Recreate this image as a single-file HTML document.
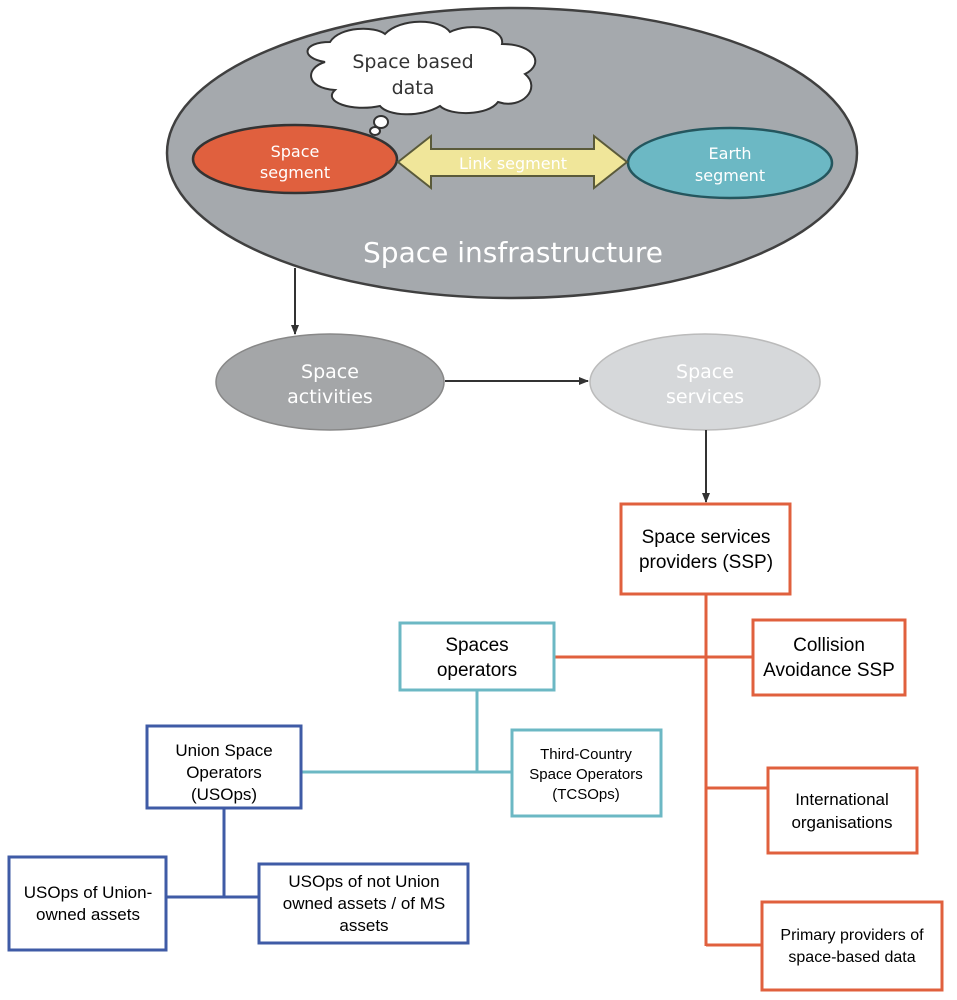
<!DOCTYPE html>
<html><head><meta charset="utf-8"><style>html,body{margin:0;padding:0;background:#fff}svg{display:block}</style></head>
<body>
<svg width="957" height="1000" viewBox="0 0 957 1000" xmlns="http://www.w3.org/2000/svg">
<defs>
<marker id="ar" markerWidth="10" markerHeight="10" refX="9" refY="5" orient="auto" markerUnits="userSpaceOnUse"><path d="M0,1 L10,5 L0,9 z" fill="#333"/></marker>
</defs>
<ellipse cx="512" cy="153" rx="345" ry="145" fill="#a5a9ad" stroke="#404040" stroke-width="2.5"/>
<g fill="#fff" stroke="#333" stroke-width="2">
<path d="M325,62 C300,58 302,42 330,42 C340,26 375,26 385,34 C400,18 440,18 450,32 C470,22 505,28 502,44 C535,44 545,64 525,74 C542,88 522,110 498,102 C488,116 450,116 440,106 C420,118 388,116 380,106 C352,112 322,102 335,90 C305,88 305,68 325,62 Z"/>
<ellipse cx="381" cy="122" rx="7" ry="6"/>
<ellipse cx="375" cy="131" rx="5" ry="4"/>
</g>
<text x="413" y="68" font-family="DejaVu Sans, sans-serif" font-size="19" fill="#333" text-anchor="middle">Space based</text>
<text x="413" y="94" font-family="DejaVu Sans, sans-serif" font-size="19" fill="#333" text-anchor="middle">data</text>
<ellipse cx="295" cy="159" rx="102" ry="34" fill="#e0603e" stroke="#333" stroke-width="2.5"/>
<text x="295" y="157" font-family="DejaVu Sans, sans-serif" font-size="16" fill="#fff" text-anchor="middle">Space</text>
<text x="295" y="178" font-family="DejaVu Sans, sans-serif" font-size="16" fill="#fff" text-anchor="middle">segment</text>
<ellipse cx="730" cy="163" rx="102" ry="35" fill="#6cb8c4" stroke="#24565e" stroke-width="2.5"/>
<text x="730" y="159" font-family="DejaVu Sans, sans-serif" font-size="16" fill="#fff" text-anchor="middle">Earth</text>
<text x="730" y="181" font-family="DejaVu Sans, sans-serif" font-size="16" fill="#fff" text-anchor="middle">segment</text>
<path d="M398,162 L431,136 L431,149 L594,149 L594,136 L627,162 L594,188 L594,176 L431,176 L431,188 Z" fill="#f0e69a" stroke="#5a5a3a" stroke-width="2"/>
<text x="513" y="169" font-family="DejaVu Sans, sans-serif" font-size="16" fill="#fff" text-anchor="middle">Link segment</text>
<text x="513" y="262" font-family="DejaVu Sans, sans-serif" font-size="28" fill="#fff" text-anchor="middle">Space insfrastructure</text>
<line x1="295" y1="268" x2="295" y2="334" stroke="#333" stroke-width="2" marker-end="url(#ar)"/>
<ellipse cx="330" cy="382" rx="114" ry="48" fill="#a4a6a8" stroke="#888" stroke-width="1.5"/>
<text x="330" y="378" font-family="DejaVu Sans, sans-serif" font-size="19" fill="#fff" text-anchor="middle">Space</text>
<text x="330" y="403" font-family="DejaVu Sans, sans-serif" font-size="19" fill="#fff" text-anchor="middle">activities</text>
<line x1="445" y1="381" x2="588" y2="381" stroke="#333" stroke-width="2" marker-end="url(#ar)"/>
<ellipse cx="705" cy="382" rx="115" ry="48" fill="#d6d8da" stroke="#bbb" stroke-width="1.5"/>
<text x="705" y="378" font-family="DejaVu Sans, sans-serif" font-size="19" fill="#fff" text-anchor="middle">Space</text>
<text x="705" y="403" font-family="DejaVu Sans, sans-serif" font-size="19" fill="#fff" text-anchor="middle">services</text>
<line x1="706" y1="430" x2="706" y2="502" stroke="#333" stroke-width="2" marker-end="url(#ar)"/>
<g stroke="#e0603e" stroke-width="3" fill="none">
<line x1="706" y1="594" x2="706" y2="946"/>
<line x1="554" y1="657" x2="753" y2="657"/>
<line x1="706" y1="788" x2="768" y2="788"/>
<line x1="706" y1="945" x2="762" y2="945"/>
<rect x="621" y="504" width="169" height="90" fill="#fff"/>
<rect x="753" y="620" width="152" height="75" fill="#fff"/>
<rect x="768" y="768" width="149" height="85" fill="#fff"/>
<rect x="762" y="902" width="180" height="88" fill="#fff"/>
</g>
<g stroke="#6cb8c4" stroke-width="3" fill="none">
<line x1="477" y1="690" x2="477" y2="772"/>
<line x1="301" y1="772" x2="512" y2="772"/>
<rect x="400" y="623" width="154" height="67" fill="#fff"/>
<rect x="512" y="730" width="149" height="86" fill="#fff"/>
</g>
<g stroke="#3f5ba6" stroke-width="3" fill="none">
<line x1="224" y1="808" x2="224" y2="897"/>
<line x1="166" y1="897" x2="259" y2="897"/>
<rect x="147" y="726" width="154" height="82" fill="#fff"/>
<rect x="9" y="857" width="157" height="93" fill="#fff"/>
<rect x="259" y="864" width="209" height="79" fill="#fff"/>
</g>
<g font-family="Liberation Sans, sans-serif" fill="#000" text-anchor="middle">
<text x="706" y="543" font-size="19">Space services</text>
<text x="706" y="568" font-size="19">providers (SSP)</text>
<text x="829" y="651" font-size="19">Collision</text>
<text x="829" y="676" font-size="19">Avoidance SSP</text>
<text x="842" y="805" font-size="17">International</text>
<text x="842" y="828" font-size="17">organisations</text>
<text x="852" y="940" font-size="16">Primary providers of</text>
<text x="852" y="962" font-size="16">space-based data</text>
<text x="477" y="651" font-size="19">Spaces</text>
<text x="477" y="676" font-size="19">operators</text>
<text x="586" y="759" font-size="15">Third-Country</text>
<text x="586" y="779" font-size="15">Space Operators</text>
<text x="586" y="799" font-size="15">(TCSOps)</text>
<text x="224" y="756" font-size="17">Union Space</text>
<text x="224" y="778" font-size="17">Operators</text>
<text x="224" y="800" font-size="17">(USOps)</text>
<text x="88" y="898" font-size="17">USOps of Union-</text>
<text x="88" y="920" font-size="17">owned assets</text>
<text x="364" y="887" font-size="17">USOps of not Union</text>
<text x="364" y="909" font-size="17">owned assets / of MS</text>
<text x="364" y="931" font-size="17">assets</text>
</g>
</svg>
</body></html>
